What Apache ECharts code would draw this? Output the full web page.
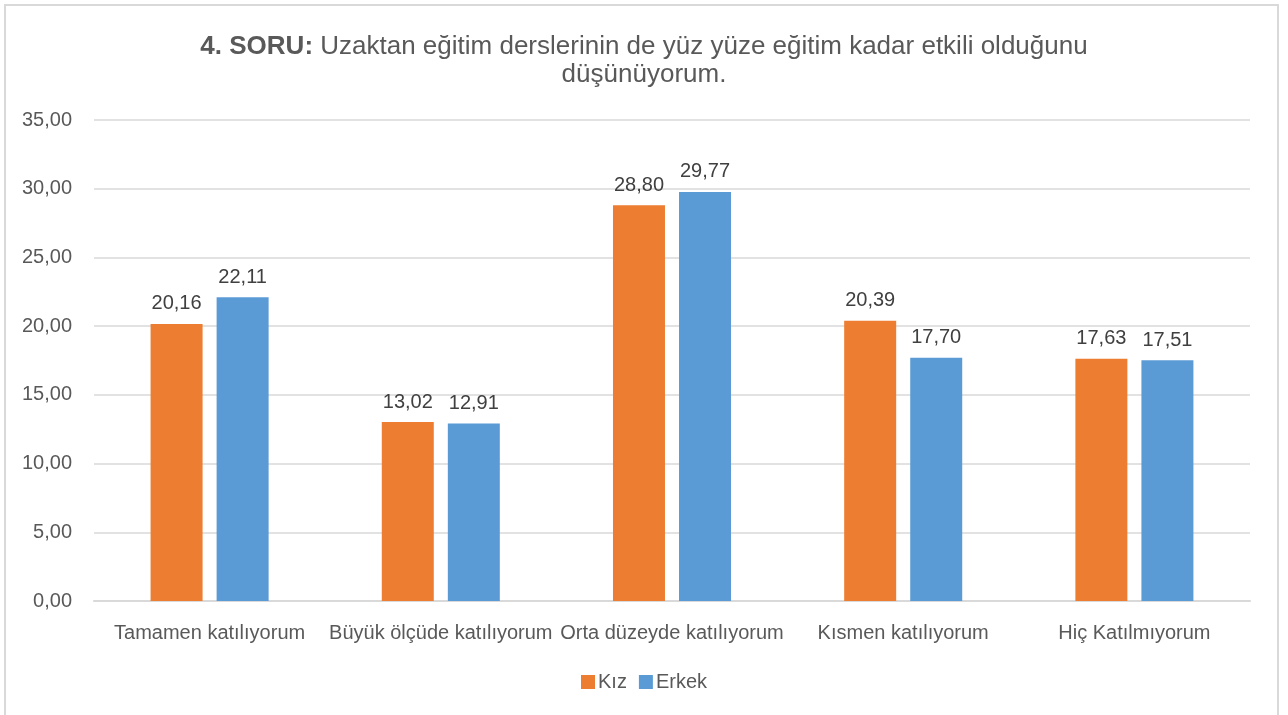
<!DOCTYPE html>
<html>
<head>
<meta charset="utf-8">
<script src="https://cdn.jsdelivr.net/npm/echarts@6/dist/echarts.min.js"></script>
<style>
  html, body { margin: 0; padding: 0; background: #fff; }
  #chart { width: 1288px; height: 715px; }
  #frame {
    position: absolute; left: 4px; top: 4px; width: 1275px; height: 720px;
    border: 2px solid #d9d9d9; box-sizing: border-box; pointer-events: none;
  }
</style>
</head>
<body>
<div id="frame"></div>
<div id="chart"></div>
<script>
const categories = [
  "Tamamen katılıyorum",
  "Büyük ölçüde katılıyorum",
  "Orta düzeyde katılıyorum",
  "Kısmen katılıyorum",
  "Hiç Katılmıyorum",
];
const kiz = [20.16, 13.02, 28.80, 20.39, 17.63];
const erkek = [22.11, 12.91, 29.77, 17.70, 17.51];

const fmt = (v) => v.toFixed(2).replace(".", ",");

const chart = echarts.init(document.getElementById("chart"));
chart.setOption({
  animation: false,
  textStyle: { fontFamily: "Liberation Sans, Arial, sans-serif" },
  title: {
    text: "{b|4. SORU:} Uzaktan eğitim derslerinin de yüz yüze eğitim kadar etkili olduğunu\ndüşünüyorum.",
    left: "center",
    top: 28,
    textStyle: {
      fontSize: 26,
      fontWeight: "normal",
      color: "#595959",
      lineHeight: 28,
      align: "center",
      rich: {
        b: { fontSize: 26, fontWeight: "bold", color: "#595959", lineHeight: 28 },
      },
    },
  },
  legend: {
    bottom: 18,
    left: "center",
    itemWidth: 14,
    itemHeight: 14,
    itemGap: 12,
    icon: "rect",
    textStyle: { fontSize: 20, color: "#595959", padding: [0, 0, 0, -2] },
  },
  grid: { left: 94, right: 38, top: 120, bottom: 114 },
  xAxis: {
    type: "category",
    data: categories,
    axisTick: { show: false },
    axisLine: { lineStyle: { color: "#d9d9d9", width: 2 } },
    axisLabel: { fontSize: 20, color: "#595959", margin: 22, interval: 0 },
  },
  yAxis: {
    type: "value",
    min: 0,
    max: 35,
    interval: 5,
    axisLabel: { fontSize: 20, color: "#595959", margin: 22, formatter: (v) => fmt(v) },
    splitLine: { lineStyle: { color: "#d9d9d9", width: 1.5 } },
  },
  series: [
    {
      name: "Kız",
      type: "bar",
      data: kiz,
      barWidth: 52,
      barGap: "27%",
      itemStyle: { color: "#ed7d31" },
      label: {
        show: true, position: "top", distance: 10, fontSize: 20, color: "#404040",
        formatter: (p) => fmt(p.value),
      },
    },
    {
      name: "Erkek",
      type: "bar",
      data: erkek,
      barWidth: 52,
      itemStyle: { color: "#5b9bd5" },
      label: {
        show: true, position: "top", distance: 10, fontSize: 20, color: "#404040",
        formatter: (p) => fmt(p.value),
      },
    },
  ],
});
</script>
</body>
</html>
